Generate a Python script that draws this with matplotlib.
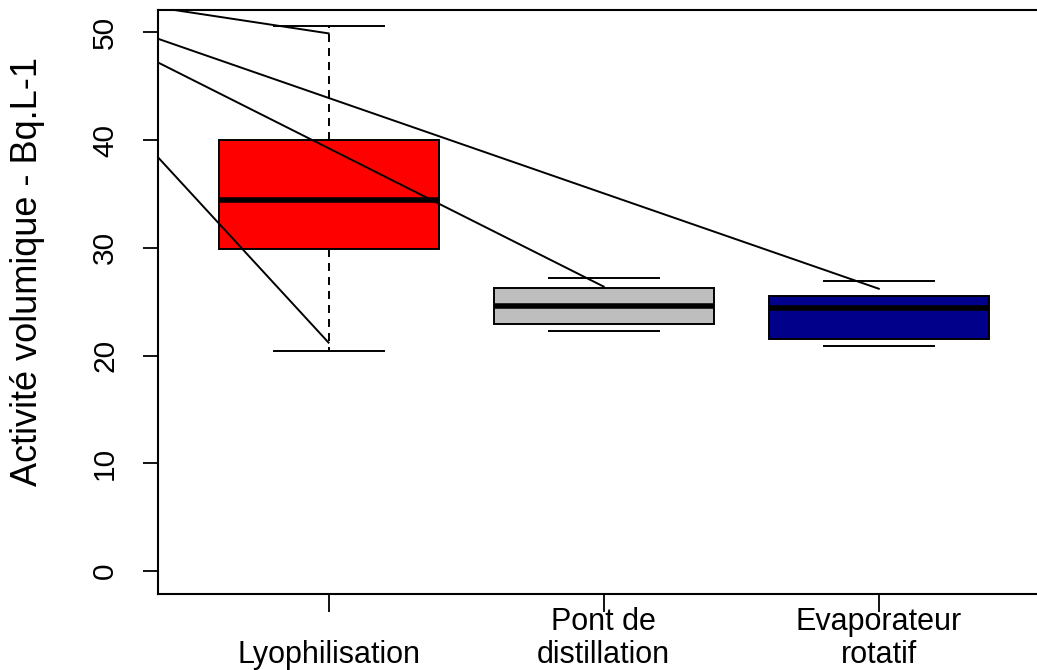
import matplotlib
matplotlib.use("Agg")
import matplotlib.pyplot as plt
import matplotlib.transforms as mtransforms

plt.rcParams['font.family'] = ['Liberation Sans', 'DejaVu Sans']

# boxplot summaries
groups = ["Lyophilisation", "Pont de\ndistillation", "Evaporateur\nrotatif"]
q1 = [29.9, 22.9, 21.5]
med = [34.4, 24.6, 24.4]
q3 = [40.0, 26.3, 25.5]
wlo = [20.4, 22.3, 20.9]
whi = [50.6, 27.2, 26.9]
colors = ["#FF0000", "#BEBEBE", "#00008B"]

# straight segments drawn over the boxes (start at left edge)
seg_x0 = [0.38, 0.38, 0.38, 0.38]
seg_y0 = [52.3, 49.4, 47.2, 38.4]
seg_x1 = [1, 3, 2, 1]
seg_y1 = [49.9, 26.2, 26.4, 21.2]

yticks = [0, 10, 20, 30, 40, 50]

fig = plt.figure(figsize=(10.37, 6.70), dpi=100)
ax = fig.add_axes([158/1037, 76/670, 1 - 158/1037 + 0.01, 584/670])

stats = []
for i in range(3):
    stats.append(dict(med=med[i], q1=q1[i], q3=q3[i], whislo=wlo[i], whishi=whi[i], fliers=[]))

bp = ax.bxp(stats, positions=[1, 2, 3], widths=0.8, patch_artist=True,
            showfliers=False, capwidths=0.4,
            boxprops=dict(linewidth=1.4, edgecolor='black'),
            medianprops=dict(linewidth=4, color='black', solid_capstyle='butt'),
            whiskerprops=dict(linewidth=1.4, color='black', dashes=(4.1, 3.1)),
            capprops=dict(linewidth=1.4, color='black'))
for patch, c in zip(bp['boxes'], colors):
    patch.set_facecolor(c)
# the short whiskers of the two narrow boxes do not show in the original
for w in bp['whiskers'][2:]:
    w.set_visible(False)

for i in range(len(seg_x0)):
    ax.plot([seg_x0[i], seg_x1[i]], [seg_y0[i], seg_y1[i]], color='black', lw=1.4)

ax.set_xlim(0.38, 0.38 + 889/275)
ax.set_ylim(-2.13, 52.07)
ax.spines['right'].set_visible(False)
for s in ['left', 'top', 'bottom']:
    ax.spines[s].set_linewidth(1.5)

ax.set_yticks(yticks)
ax.set_yticklabels([str(v) for v in yticks], rotation=90, va='center', fontsize=21.5)
ax.tick_params(axis='y', length=11, width=1.3, pad=17)
ax.set_xticks([1, 2, 3])
ax.set_xticklabels([])
ax.tick_params(axis='x', length=13, width=1.3)

trans = mtransforms.blended_transform_factory(ax.transData, fig.transFigure)
for i, g in enumerate(groups):
    ax.text(i + 1, 7/670, g, transform=trans, ha='center', va='baseline',
            fontsize=22, linespacing=1.15, clip_on=False)

fig.text(28/1037, 1 - 272/670, "Activité volumique - Bq.L-1", rotation=90,
         ha='center', va='center', fontsize=26)

fig.savefig("out.png", dpi=100)
